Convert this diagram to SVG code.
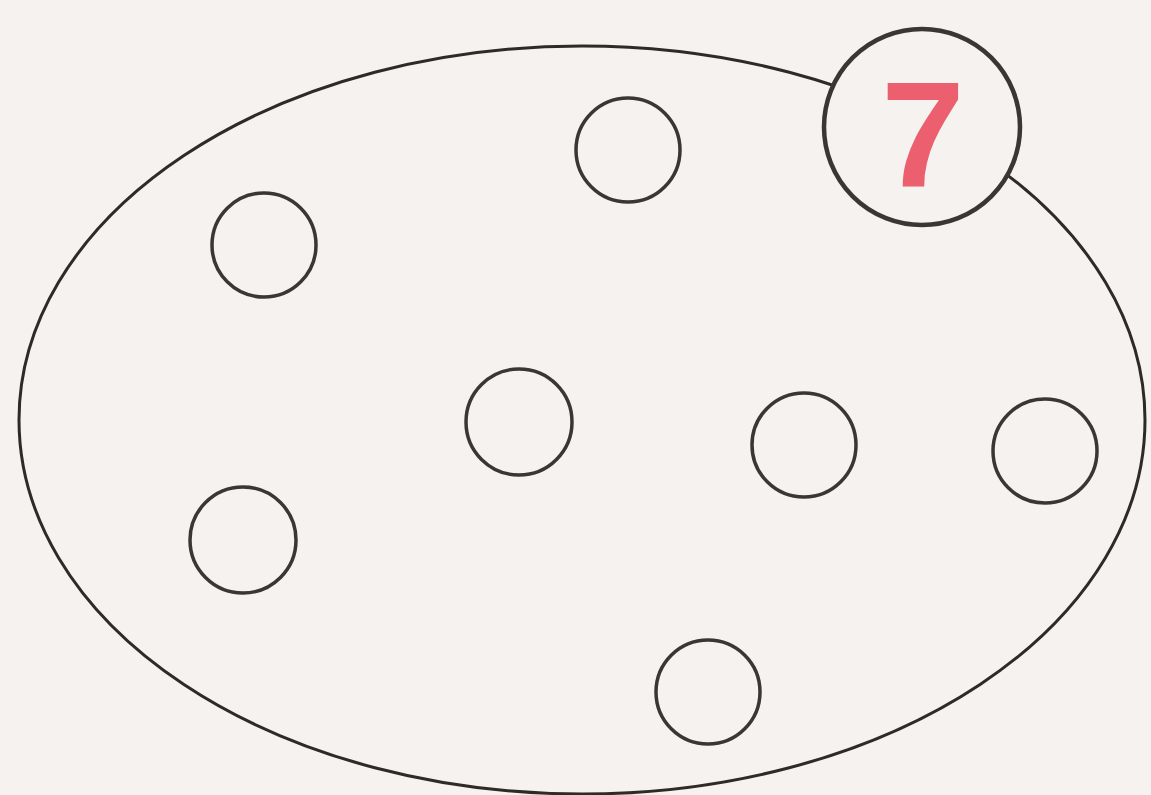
<svg xmlns="http://www.w3.org/2000/svg" width="1151" height="795" viewBox="0 0 1151 795">
<style>
.dot{fill:none;stroke:#3b3631;stroke-width:3.5}
.big{fill:none;stroke:#2f2a26;stroke-width:3}
.badge{fill:#f5f2ef;stroke:#3b3631;stroke-width:4.5}
.num{font-family:"Liberation Sans",Arial,sans-serif;font-weight:bold;font-size:150px;fill:#ec5f6e;text-anchor:middle}
</style>
<rect width="1151" height="795" fill="#f5f2ef"/>
<g id="set">
<ellipse class="big" cx="582" cy="420" rx="563" ry="374"/>
</g>
<g id="dot1"><circle class="dot" cx="628" cy="150" r="52"/></g>
<g id="dot2"><circle class="dot" cx="264" cy="245" r="52"/></g>
<g id="dot3"><circle class="dot" cx="519" cy="422" r="53"/></g>
<g id="dot4"><circle class="dot" cx="804" cy="445" r="52"/></g>
<g id="dot5"><circle class="dot" cx="1045" cy="451" r="52"/></g>
<g id="dot6"><circle class="dot" cx="243" cy="540" r="53"/></g>
<g id="dot7"><circle class="dot" cx="708" cy="692" r="52"/></g>
<g id="count">
<circle class="badge" cx="922" cy="127" r="98"/>
<text class="num" x="923" y="187">7</text>
</g>
<g id="connectors"/>
</svg>
